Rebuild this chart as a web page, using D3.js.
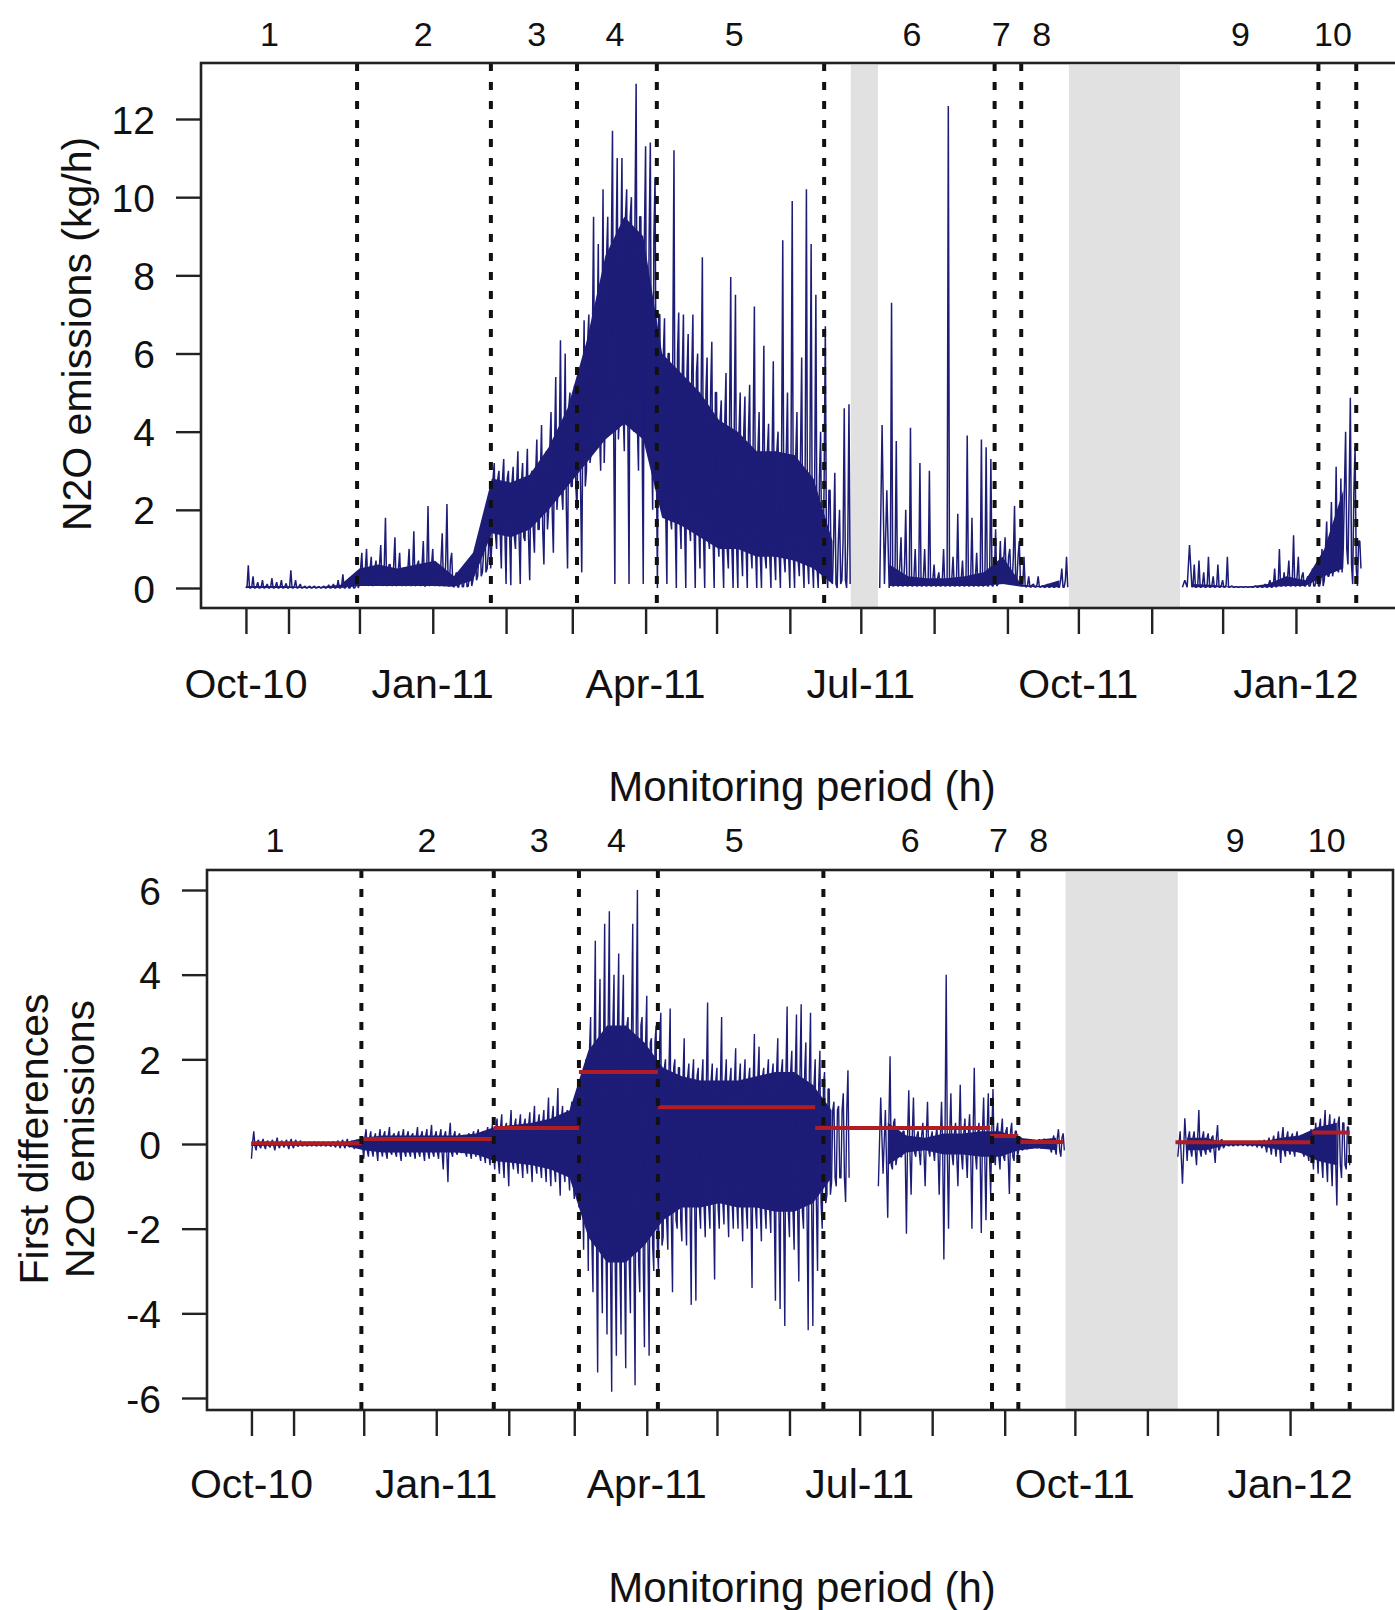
<!DOCTYPE html>
<html><head><meta charset="utf-8">
<script src="https://cdn.jsdelivr.net/npm/d3@7"></script>
<style>body{margin:0;background:#fff}svg text{font-family:"Liberation Sans",Arial,Helvetica,sans-serif;fill:#111}</style>
</head><body>
<svg id="chart" width="1395" height="1610"></svg>
<script>
// ---------------- data ----------------
const sampleStart = "2010-10-14";   // first hourly record
const sampleStepDays = 2;           // values every 2 days (min, max)
const bandStepDays = 8;             // dense core of the trace, read every 8 days
const xDomain = ["2010-09-25", "2012-02-14"];

const tickDates = ["2010-10-14","2010-11-01","2010-12-01","2011-01-01","2011-02-01","2011-03-01","2011-04-01","2011-05-01","2011-06-01","2011-07-01","2011-08-01","2011-09-01","2011-10-01","2011-11-01","2011-12-01","2012-01-01"];
const tickLabels = ["Oct-10","","","Jan-11","","","Apr-11","","","Jul-11","","","Oct-11","","","Jan-12"];

const breakDates = ["2010-11-30","2011-01-25T14:00","2011-03-03","2011-04-05T18:00","2011-06-15T12:00","2011-08-26T14:00","2011-09-06T20:00","2012-01-10T12:00","2012-01-26T12:00"];
const periodLabels = ["1","2","3","4","5","6","7","8","9","10"];
const periodLabelDates = ["2010-10-24","2010-12-28","2011-02-14","2011-03-19","2011-05-08T10:00","2011-07-22T14:00","2011-08-29T08:00","2011-09-15T12:00","2011-12-08T12:00","2012-01-16T16:00"];

const topGrayBands = [["2011-06-26T18:00","2011-07-08T06:00"],["2011-09-27","2011-11-13"]];
const bottomGrayBands = [["2011-09-27","2011-11-14"]];

const topYTicks = [0,2,4,6,8,10,12];
const bottomYTicks = [-6,-4,-2,0,2,4,6];

// N2O emissions (kg/h): max and min of each 2-day window
const n2oMax = [
  0.58,0.3,0.15,0.2,0.1,0.25,0.15,0.2,0.12,0.45,0.2,0.1,0.05,0.05,0.05,0.03,0.05,0.08,0.1,0.2,0.35,0.15,0.2,0.25,
  0.9,1.0,0.8,0.7,1.1,1.8,0.6,1.3,0.9,0.5,1.0,1.45,0.7,1.2,2.1,1.0,0.6,1.4,2.15,0.9,0.4,0.3,0.5,0.6,0.9,1.5,1.85,1.7,
  3.2,3.0,3.3,3.0,3.1,3.5,3.2,3.56,3.0,3.8,4.17,3.5,4.5,5.4,6.34,6.0,5.0,5.2,
  5.5,6.85,7.0,9.5,8.8,10.2,9.5,11.7,11.0,11.0,10.2,10.0,12.9,9.5,11.3,11.4,10.5,
  7.0,6.9,6.0,11.2,7.05,7.0,6.5,7.0,6.0,8.46,5.9,6.3,5.0,4.8,5.5,7.96,7.5,5.0,4.9,5.2,7.2,4.5,6.2,4.2,5.8,4.0,8.9,5.0,9.9,4.5,5.9,10.2,8.8,7.5,4.0,6.7,
  2.5,2.95,2.0,4.6,4.7,
  null,null,null,null,null,null,
  4.17,2.5,7.3,3.76,1.3,2.0,4.1,1.0,3.2,1.0,3.0,0.6,0.4,1.0,12.33,0.8,1.9,0.7,3.9,1.8,0.9,3.8,3.6,3.3,1.5,
  1.2,1.3,1.0,2.1,1.2,0.8,
  0.3,0.1,0.3,0.05,0.1,0.05,0.1,0.5,0.8,
  null,null,null,null,null,null,null,null,null,null,null,null,null,null,null,null,null,null,null,null,null,null,null,null,
  0.2,1.1,0.6,0.7,0.4,0.8,0.3,0.6,0.2,0.8,0.05,0.03,0.03,0.03,0.03,0.05,0.05,0.1,0.2,0.5,1.0,0.4,0.7,1.35,0.8,0.4,0.3,0.5,0.6,1.0,
  1.7,2.2,3.1,2.8,4.0,4.87,3.6,1.2
];
const n2oMin = [
  0,0,0,0,0,0,0,0,0,0,0,0,0,0,0,0,0,0,0,0,0,0,0,0,
  0.1,0.15,0.05,0.1,0.15,0.05,0.1,0.05,0.1,0.05,0.1,0.05,0.1,0.05,0.05,0.1,0.05,0.1,0.05,0.05,0.02,0.02,0.03,0.05,0.2,0.3,0.4,0.5,
  1.2,1.0,0.5,0.1,0.07,1.0,0.1,1.2,0.2,0.9,1.5,0.6,2.0,0.9,2.5,2.0,0.5,2.6,
  2.0,0.4,3.0,3.5,4.0,3.0,4.5,4.0,0.1,4.5,3.5,0.1,4.0,3.0,0.1,4.0,2.0,
  0,2.0,0.1,1.5,0,1.0,0,1.2,0,0.5,0,1.0,0,0.8,0,0.5,0,0,0.3,0,0.5,0,0,0.5,0,0.2,0,0.4,0,0,0.3,0,0.1,0,0,0.1,
  0,0.1,0,0.2,0,
  null,null,null,null,null,null,
  0,0.1,0,0.05,0.05,0.05,0.05,0.05,0.05,0.05,0.05,0.05,0.05,0.05,0.05,0.05,0.05,0.05,0.05,0.05,0.05,0.05,0.05,0.05,0.05,
  0.1,0.3,0.2,0.1,0.2,0.05,
  0.02,0.02,0.02,0.02,0.02,0.02,0.02,0.02,0.02,
  null,null,null,null,null,null,null,null,null,null,null,null,null,null,null,null,null,null,null,null,null,null,null,null,
  0.02,0.02,0.02,0.02,0.02,0.02,0.02,0.02,0.02,0.02,0.02,0.02,0.02,0.02,0.02,0.02,0.02,0.02,0.02,0.02,0.05,0.05,0.05,0.05,0.05,0.05,0.05,0.05,0.05,0.05,
  0.2,0.3,0.5,0.4,1.0,0.6,0.1,0.05
];
// dense core of the N2O trace, every 8 days
const n2oBandLow  = [0,0,0,0,0,0,0.05,0.05,0.05,0.05,0.05,0.03,0.2,1.4,1.3,1.5,2.0,2.6,3.2,3.8,4.2,3.8,1.8,1.6,1.3,1.0,1.0,0.8,0.8,0.7,0.5,0.1,null,null,0.05,0.05,0.05,0.05,0.05,0.05,0.1,0.03,0.02,0.02,null,null,null,null,null,null,0.02,0.02,0.02,0.02,0.02,0.05,0.05,0.3,0.5];
const n2oBandHigh = [0.05,0.05,0.05,0.03,0.03,0.08,0.5,0.6,0.5,0.6,0.7,0.3,0.9,2.8,2.7,2.9,3.6,4.6,6.3,8.5,9.5,9.0,6.0,5.5,5.0,4.3,4.0,3.5,3.5,3.4,2.8,1.2,null,null,0.6,0.3,0.25,0.25,0.3,0.4,0.8,0.08,0.05,0.2,null,null,null,null,null,null,0.1,0.08,0.04,0.04,0.1,0.3,0.2,1.0,2.5];

// first differences: max and min of each 2-day window
const diffMax = [
  0.3,0.1,0.12,0.08,0.1,0.15,0.08,0.1,0.12,0.1,0.08,0.05,0.05,0.06,0.04,0.05,0.05,0.06,0.08,0.1,0.12,0.08,0.1,0.1,
  0.35,0.3,0.25,0.35,0.3,0.4,0.25,0.3,0.35,0.3,0.25,0.4,0.3,0.35,0.45,0.3,0.35,0.3,0.5,0.3,0.25,0.2,0.25,0.3,0.35,0.3,0.4,0.45,
  0.6,0.7,0.5,0.8,0.6,0.7,0.6,0.75,0.9,0.7,0.8,1.1,0.9,1.32,0.9,0.8,1.0,1.2,
  1.5,2.0,3.0,4.8,3.9,5.2,5.5,4.0,4.5,4.0,3.0,5.2,6.0,3.0,3.5,2.5,2.8,
  3.1,2.0,3.2,2.0,1.8,2.5,1.9,2.0,1.8,2.0,3.34,1.9,1.8,3.0,2.0,1.8,2.26,1.9,2.0,1.8,2.6,2.3,1.8,2.0,1.9,2.5,2.0,3.25,2.2,3.06,3.3,2.4,3.1,2.0,2.2,1.7,
  1.3,1.0,0.9,1.2,1.74,
  null,null,null,null,null,null,
  1.1,0.8,2.07,0.6,0.3,0.3,1.27,1.1,0.3,0.5,1.0,0.3,0.4,1.0,4.0,1.2,0.5,1.4,0.6,0.7,1.8,0.5,1.1,1.2,1.3,
  0.5,0.6,0.4,0.5,0.3,
  0.15,0.1,0.1,0.08,0.1,0.12,0.1,0.2,0.35,0.25,
  null,null,null,null,null,null,null,null,null,null,null,null,null,null,null,null,null,null,null,null,null,null,null,null,
  0.3,0.61,0.3,0.3,0.8,0.3,0.25,0.2,0.45,0.1,0.05,0.04,0.04,0.03,0.04,0.05,0.05,0.08,0.1,0.15,0.2,0.3,0.4,0.3,0.25,0.3,0.2,0.25,0.35,
  0.5,0.6,0.8,0.7,0.6,0.65,0.5,0.4
];
const diffMin = [
  -0.35,-0.15,-0.1,-0.12,-0.08,-0.15,-0.1,-0.08,-0.12,-0.1,-0.06,-0.05,-0.05,-0.04,-0.05,-0.04,-0.05,-0.06,-0.08,-0.1,-0.1,-0.08,-0.12,-0.1,
  -0.35,-0.3,-0.3,-0.4,-0.3,-0.35,-0.25,-0.3,-0.4,-0.3,-0.3,-0.35,-0.3,-0.4,-0.35,-0.3,-0.35,-0.6,-0.9,-0.3,-0.25,-0.2,-0.3,-0.35,-0.3,-0.4,-0.45,-0.5,
  -0.6,-0.7,-0.8,-1.0,-0.6,-0.7,-0.8,-0.7,-0.9,-0.7,-0.8,-0.9,-1.0,-0.9,-1.22,-0.9,-1.1,-1.3,
  -1.5,-2.5,-3.0,-3.5,-5.4,-4.0,-4.5,-5.85,-5.0,-4.5,-5.3,-4.0,-5.7,-3.5,-4.8,-5.0,-3.0,
  -3.0,-2.2,-2.5,-3.5,-2.0,-2.3,-2.4,-3.8,-3.7,-2.0,-2.2,-2.0,-3.2,-2.0,-1.9,-2.2,-2.0,-2.0,-2.3,-2.0,-3.4,-2.0,-2.3,-2.0,-2.1,-3.7,-3.9,-4.3,-2.2,-2.5,-3.25,-2.0,-4.4,-4.3,-3.0,-2.0,
  -1.2,-0.9,-1.0,-0.8,-1.37,
  null,null,null,null,null,null,
  -1.0,-0.7,-1.74,-0.6,-0.3,-0.3,-2.12,-1.2,-0.3,-0.5,-1.0,-0.3,-0.4,-1.2,-2.73,-2.0,-0.5,-1.0,-0.6,-0.8,-2.0,-0.6,-2.1,-1.8,-1.2,
  -0.5,-0.6,-0.4,-1.18,-0.4,
  -0.15,-0.12,-0.1,-0.08,-0.1,-0.1,-0.1,-0.2,-0.25,-0.3,
  null,null,null,null,null,null,null,null,null,null,null,null,null,null,null,null,null,null,null,null,null,null,null,null,
  -0.3,-0.94,-0.4,-0.3,-0.5,-0.3,-0.25,-0.2,-0.45,-0.1,-0.05,-0.04,-0.04,-0.03,-0.04,-0.05,-0.05,-0.08,-0.1,-0.2,-0.25,-0.3,-0.45,-0.3,-0.25,-0.3,-0.2,-0.3,-0.4,
  -0.6,-0.7,-0.8,-0.9,-1.0,-1.45,-0.8,-0.6
];
const diffBandLow  = [-0.05,-0.04,-0.04,-0.04,-0.04,-0.04,-0.15,-0.2,-0.2,-0.2,-0.2,-0.2,-0.25,-0.4,-0.45,-0.5,-0.6,-0.8,-2.2,-2.8,-2.8,-2.4,-1.8,-1.5,-1.5,-1.4,-1.5,-1.5,-1.6,-1.6,-1.4,-0.8,null,null,-0.5,-0.2,-0.15,-0.25,-0.25,-0.3,-0.3,-0.15,-0.1,-0.15,null,null,null,null,null,null,-0.15,-0.15,-0.04,-0.03,-0.05,-0.15,-0.2,-0.4,-0.5];
const diffBandHigh = [0.05,0.04,0.04,0.04,0.04,0.04,0.15,0.2,0.2,0.2,0.2,0.2,0.25,0.4,0.45,0.5,0.6,0.8,2.2,2.8,2.8,2.4,1.8,1.6,1.5,1.5,1.5,1.6,1.7,1.7,1.4,0.8,null,null,0.5,0.2,0.15,0.25,0.25,0.3,0.3,0.15,0.1,0.15,null,null,null,null,null,null,0.15,0.15,0.04,0.03,0.05,0.15,0.2,0.4,0.5];

// segment levels (red)
const segStart = ["2010-10-14","2010-11-30","2011-01-25T14:00","2011-03-03","2011-04-05T18:00","2011-06-12","2011-08-25T20:00","2011-09-06T20:00","2011-11-13","2012-01-10T12:00"];
const segEnd   = ["2010-11-30","2011-01-25T14:00","2011-03-03","2011-04-05T18:00","2011-06-12","2011-08-25T20:00","2011-09-06T20:00","2011-09-26","2012-01-10T12:00","2012-01-26T12:00"];
const segLevel = [0.02,0.12,0.38,1.7,0.87,0.38,0.19,0.05,0.04,0.27];

// ---------------- drawing ----------------
const toDate = s => new Date(s.length === 10 ? s + "T00:00:00Z" : s + "Z");
const DAY = 864e5;
const t0 = toDate(sampleStart);
const NAVY = "#1d1d78";
const FONT = '"Liberation Sans",Arial,sans-serif';

const svg = d3.select("#chart");

const panels = [
  { box:{l:201, r:1400, t:63, b:608}, yDomain:[0,12], yRange:[588,119], yTicks:topYTicks,
    max:n2oMax, min:n2oMin, bandLo:n2oBandLow, bandHi:n2oBandHigh, gray:topGrayBands,
    periodY:34, tickLabelY:684, titleY:786, seg:false, stroke:1.5,
    yTitle:["N2O emissions (kg/h)"], yTitleX:[77], yTitleY:334 },
  { box:{l:207, r:1393, t:870, b:1410}, yDomain:[-6,6], yRange:[1398,890], yTicks:bottomYTicks,
    max:diffMax, min:diffMin, bandLo:diffBandLow, bandHi:diffBandHigh, gray:bottomGrayBands,
    periodY:840, tickLabelY:1484, titleY:1587, seg:true, stroke:1.4,
    yTitle:["First differences","N2O emissions"], yTitleX:[34,80], yTitleY:1139 }
];

panels.forEach((p, pi) => {
  const b = p.box;
  const x = d3.scaleUtc().domain(xDomain.map(toDate)).range([b.l, b.r]);
  const y = d3.scaleLinear().domain(p.yDomain).range(p.yRange);
  const g = svg.append("g");
  const clipId = "clip" + pi;
  svg.append("clipPath").attr("id", clipId).append("rect")
    .attr("x", b.l).attr("y", b.t).attr("width", b.r - b.l).attr("height", b.b - b.t);
  const plot = g.append("g").attr("clip-path", `url(#${clipId})`);

  // gray no-data bands
  plot.selectAll("rect.gray").data(p.gray).join("rect").attr("class","gray")
    .attr("x", d => x(toDate(d[0]))).attr("width", d => x(toDate(d[1])) - x(toDate(d[0])))
    .attr("y", b.t + 2).attr("height", b.b - b.t - 3).attr("fill", "#e1e1e1");

  // dense core of the trace
  const band = p.bandLo.map((lo, k) => ({ t: new Date(+t0 + k * bandStepDays * DAY), lo, hi: p.bandHi[k] }));
  plot.append("path").datum(band)
    .attr("d", d3.area().defined(d => d.lo != null).x(d => x(d.t)).y0(d => y(d.lo)).y1(d => y(d.hi)))
    .attr("fill", NAVY);

  // oscillating trace: in each 2-day window go min -> core top -> max -> core bottom
  const pts = [];
  p.max.forEach((mx, i) => {
    const ti = +t0 + i * sampleStepDays * DAY;
    const mn = p.min[i];
    const k = Math.floor(i * sampleStepDays / bandStepDays);
    const cLo = p.bandLo[k], cHi = p.bandHi[k];
    pts.push({ t: new Date(ti), v: mn });
    if (mx != null && cHi != null) pts.push({ t: new Date(ti + 0.5 * DAY), v: Math.min(cHi, mx) });
    pts.push({ t: new Date(ti + DAY), v: mx });
    if (mx != null && cLo != null) pts.push({ t: new Date(ti + 1.5 * DAY), v: Math.max(cLo, mn) });
  });
  plot.append("path").datum(pts)
    .attr("d", d3.line().defined(d => d.v != null).x(d => x(d.t)).y(d => y(d.v)))
    .attr("fill", "none").attr("stroke", NAVY).attr("stroke-width", p.stroke).attr("stroke-linejoin", "bevel");

  // segment levels
  if (p.seg) {
    plot.selectAll("line.seg").data(segLevel).join("line").attr("class","seg")
      .attr("x1", (d, i) => x(toDate(segStart[i]))).attr("x2", (d, i) => x(toDate(segEnd[i])))
      .attr("y1", d => y(d)).attr("y2", d => y(d))
      .attr("stroke", "#b01e24").attr("stroke-width", 4);
  }

  // breakpoints
  plot.selectAll("line.brk").data(breakDates).join("line").attr("class","brk")
    .attr("x1", d => x(toDate(d))).attr("x2", d => x(toDate(d)))
    .attr("y1", b.t).attr("y2", b.b)
    .attr("stroke", "#111").attr("stroke-width", 4).attr("stroke-dasharray", "8,11");

  // box
  g.append("rect").attr("x", b.l).attr("y", b.t).attr("width", b.r - b.l).attr("height", b.b - b.t)
    .attr("fill", "none").attr("stroke", "#222").attr("stroke-width", 2.6);

  // x axis
  const xa = g.append("g").attr("transform", `translate(0,${b.b})`)
    .call(d3.axisBottom(x).tickValues(tickDates.map(toDate)).tickSize(26).tickFormat(() => ""));
  xa.select(".domain").remove();
  xa.selectAll(".tick line").attr("stroke", "#222").attr("stroke-width", 2.4);
  g.selectAll("text.xl").data(tickDates).join("text").attr("class","xl")
    .attr("x", d => x(toDate(d))).attr("y", p.tickLabelY)
    .attr("text-anchor", "middle").attr("dominant-baseline", "central")
    .attr("font-size", 41).text((d, i) => tickLabels[i]);

  // y axis
  const ya = g.append("g").attr("transform", `translate(${b.l},0)`)
    .call(d3.axisLeft(y).tickValues(p.yTicks).tickSize(25).tickPadding(21).tickFormat(d => String(d)));
  ya.select(".domain").remove();
  ya.selectAll(".tick line").attr("stroke", "#222").attr("stroke-width", 2.4);
  ya.selectAll(".tick text").attr("font-size", 39).attr("fill", "#111")
    .attr("font-family", FONT).attr("dy", "0.36em");

  // period numbers
  g.selectAll("text.per").data(periodLabels).join("text").attr("class","per")
    .attr("x", (d, i) => x(toDate(periodLabelDates[i]))).attr("y", p.periodY)
    .attr("text-anchor", "middle").attr("dominant-baseline", "central")
    .attr("font-size", 34).text(d => d);

  // titles
  g.append("text").attr("x", 802).attr("y", p.titleY).attr("text-anchor", "middle")
    .attr("dominant-baseline", "central").attr("font-size", 42).text("Monitoring period (h)");
  p.yTitle.forEach((t, j) => {
    g.append("text").attr("transform", `translate(${p.yTitleX[j]},${p.yTitleY}) rotate(-90)`)
      .attr("text-anchor", "middle").attr("dominant-baseline", "central")
      .attr("font-size", 41).text(t);
  });
});
</script>
</body></html>
